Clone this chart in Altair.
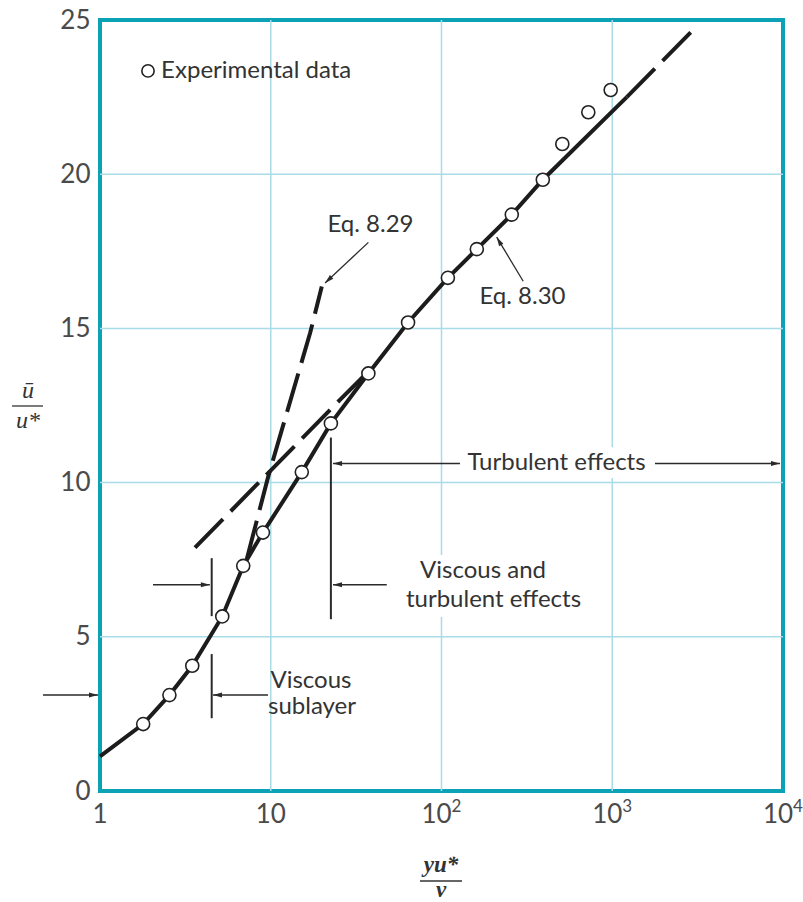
import altair as alt
import pandas as pd

# ---------------- data ----------------
exp_x = [1.79, 2.55, 3.47, 5.2, 6.9, 9.0, 15.2, 22.5, 37.3, 63.7, 109, 161, 258, 392, 510, 724, 979]
exp_y = [2.17, 3.11, 4.06, 5.66, 7.3, 8.38, 10.34, 11.92, 13.54, 15.19, 16.64, 17.57, 18.69, 19.82, 20.98, 22.01, 22.73]

solid_x = [1.0, 1.79, 2.55, 3.47, 5.2, 6.9, 9.0, 15.2, 22.5, 37.3, 63.7, 109, 161, 258, 392, 1216]
solid_y = [1.12, 2.17, 3.11, 4.06, 5.66, 7.3, 8.38, 10.34, 11.92, 13.54, 15.19, 16.64, 17.57, 18.69, 19.82, 22.5]

# Eq. 8.29 (viscous law, dashed extension)
eq829_x = [7.23, 9.68, 17.0, 19.9]
eq829_y = [7.51, 10.21, 14.85, 16.36]
# Log law dashed extension below the data
loglow_x = [3.6, 25.5, 37.3]
loglow_y = [7.89, 12.69, 13.6]
# Log law dashed extension beyond the data
loghigh_x = [1216, 2880]
loghigh_y = [22.5, 24.6]

# annotation leader lines / bars (x, y, x2, y2)
rule_x = [37.3, 301, 128.3, 1779, 22.5, 47.8, 4.51, 2.044, 4.51, 9.64, 0.4636]
rule_y = [17.79, 16.53, 10.62, 10.62, 11.46, 6.69, 7.55, 6.69, 4.44, 3.11, 3.11]
rule_x2 = [20.8, 210.5, 23.15, 9600, 22.5, 23.15, 4.51, 4.4, 4.51, 4.59, 0.973]
rule_y2 = [16.47, 17.96, 10.62, 10.62, 5.57, 6.69, 5.67, 6.69, 2.36, 3.11, 3.11]
rule_w = [1.3, 1.3, 1.5, 1.5, 2, 1.5, 2, 1.5, 2, 1.5, 1.5]

# arrow heads (tip position, direction in degrees clockwise from up)
head_x = [20.8, 210.5, 23.15, 9600, 23.15, 4.4, 4.59, 0.973]
head_y = [16.47, 17.96, 10.62, 10.62, 6.69, 6.69, 3.11, 3.11]
head_a = [227, 330, 270, 90, 270, 90, 270, 90]

# centred annotation texts
ann_text = ["Eq. 8.29", "Eq. 8.30", "Turbulent effects", "Viscous and", "turbulent effects", "Viscous", "sublayer"]
ann_x = [38.4, 298, 471.6, 175, 201.6, 17.2, 17.44]
ann_y = [18.36, 16.03, 10.62, 7.12, 6.19, 3.57, 2.72]

# white masks that interrupt the grid behind two labels (x, x2, y, y2)
mask_x = [128, 65.5]
mask_x2 = [1710, 605]
mask_y = [11.15, 7.65]
mask_y2 = [10.15, 5.64]

legend_label = "Experimental data"
legend_pt_x, legend_pt_y = [1.91], [23.35]
legend_txt_x = [2.28]

grid_x = [10, 100, 1000]
grid_y = [5, 10, 15, 20]
y_ticks = [0, 5, 10, 15, 20, 25]
x_plain = [1, 10]
x_plain_lbl = ["1", "10"]
x_pow = [100, 1000, 10000]
x_pow_exp = ["2", "3", "4"]

# ---------------- chart ----------------
W, H = 683, 771
TEAL = "#0ba2b5"
GRID = "#a9dce6"
INK = "#1c1c1c"
TXT = "#333333"
LBL = "#4a4a4a"
FONT = "Lato"

xs = alt.Scale(type="log", domain=[1, 10000])
ys = alt.Scale(domain=[0, 25])

gx = alt.Chart(pd.DataFrame({"x": grid_x})).mark_rule(color=GRID, strokeWidth=1.5).encode(
    x=alt.X("x:Q", scale=xs, axis=None))
gy = alt.Chart(pd.DataFrame({"y": grid_y})).mark_rule(color=GRID, strokeWidth=1.5).encode(
    y=alt.Y("y:Q", scale=ys,
            axis=alt.Axis(values=y_ticks, grid=False, domain=False, ticks=False,
                          labelFont=FONT, labelFontSize=26, labelColor=LBL,
                          labelPadding=10, title=None)))

masks = alt.Chart(pd.DataFrame({"x": mask_x, "x2": mask_x2, "y": mask_y, "y2": mask_y2})).mark_rect(
    color="white").encode(x=alt.X("x:Q", scale=xs), x2="x2:Q", y=alt.Y("y:Q", scale=ys), y2="y2:Q")

solid = alt.Chart(pd.DataFrame({"x": solid_x, "y": solid_y})).mark_line(
    color=INK, strokeWidth=4).encode(x=alt.X("x:Q", scale=xs), y=alt.Y("y:Q", scale=ys))

dash_df = pd.DataFrame({
    "x": eq829_x + loglow_x + loghigh_x,
    "y": eq829_y + loglow_y + loghigh_y,
    "s": ["a"] * len(eq829_x) + ["b"] * len(loglow_x) + ["c"] * len(loghigh_x),
})
dashed = alt.Chart(dash_df).mark_line(color=INK, strokeWidth=4, strokeDash=[40, 11]).encode(
    x=alt.X("x:Q", scale=xs), y=alt.Y("y:Q", scale=ys), detail="s:N")

pts = alt.Chart(pd.DataFrame({"x": exp_x, "y": exp_y})).mark_point(
    shape="circle", filled=True, fill="white", stroke="#222222", strokeWidth=1.6,
    size=170, opacity=1).encode(x=alt.X("x:Q", scale=xs), y=alt.Y("y:Q", scale=ys))

leg_pt = alt.Chart(pd.DataFrame({"x": legend_pt_x, "y": legend_pt_y})).mark_point(
    shape="circle", filled=True, fill="white", stroke="#222222", strokeWidth=1.6,
    size=150, opacity=1).encode(x=alt.X("x:Q", scale=xs), y=alt.Y("y:Q", scale=ys))
leg_txt = alt.Chart(pd.DataFrame({"x": legend_txt_x, "y": legend_pt_y, "t": [legend_label]})).mark_text(
    align="left", baseline="middle", font=FONT, fontSize=24, color=TXT).encode(
    x=alt.X("x:Q", scale=xs), y=alt.Y("y:Q", scale=ys), text="t:N")

rules = alt.Chart(pd.DataFrame({"x": rule_x, "y": rule_y, "x2": rule_x2, "y2": rule_y2, "w": rule_w})).mark_rule(
    color="#2a2a2a").encode(
    x=alt.X("x:Q", scale=xs), y=alt.Y("y:Q", scale=ys), x2="x2:Q", y2="y2:Q",
    strokeWidth=alt.StrokeWidth("w:Q", scale=None))

heads = alt.Chart(pd.DataFrame({"x": head_x, "y": head_y, "a": head_a})).mark_point(
    shape="M0,0L0.55,2L-0.55,2Z", filled=True, color="#2a2a2a", size=81, opacity=1).encode(
    x=alt.X("x:Q", scale=xs), y=alt.Y("y:Q", scale=ys), angle=alt.Angle("a:Q", scale=None))

ann = alt.Chart(pd.DataFrame({"x": ann_x, "y": ann_y, "t": ann_text})).mark_text(
    align="center", baseline="middle", font=FONT, fontSize=24, color=TXT).encode(
    x=alt.X("x:Q", scale=xs), y=alt.Y("y:Q", scale=ys), text="t:N")

# x tick labels
xl1 = alt.Chart(pd.DataFrame({"x": x_plain, "t": x_plain_lbl})).mark_text(
    align="center", baseline="alphabetic", font=FONT, fontSize=26, color=LBL).encode(
    x=alt.X("x:Q", scale=xs), y=alt.value(H + 32), text="t:N")
xl2 = alt.Chart(pd.DataFrame({"x": x_pow, "t": ["10"] * len(x_pow)})).mark_text(
    align="center", baseline="alphabetic", font=FONT, fontSize=26, color=LBL, dx=-5).encode(
    x=alt.X("x:Q", scale=xs), y=alt.value(H + 32), text="t:N")
xl3 = alt.Chart(pd.DataFrame({"x": x_pow, "t": x_pow_exp})).mark_text(
    align="left", baseline="alphabetic", font=FONT, fontSize=17, color=LBL, dx=10).encode(
    x=alt.X("x:Q", scale=xs), y=alt.value(H + 21), text="t:N")

# axis titles as fractions
serif = "Liberation Serif"
yt = alt.Chart(pd.DataFrame({"t": ["ū", "u*"], "py": [371, 401]})).mark_text(
    align="center", baseline="middle", font=serif, fontSize=24, fontStyle="italic", color=TXT).encode(
    x=alt.value(-72), y=alt.Y("py:Q", scale=None), text="t:N")
yline = alt.Chart(pd.DataFrame({"a": [0]})).mark_rule(color=TXT, strokeWidth=1.3).encode(
    x=alt.value(-88), x2=alt.value(-57), y=alt.value(386))
xt = alt.Chart(pd.DataFrame({"t": ["yu*", "ν"], "py": [845, 870]})).mark_text(
    align="center", baseline="middle", font=serif, fontSize=23, fontStyle="italic",
    fontWeight="bold", color=TXT).encode(
    x=alt.value(341), y=alt.Y("py:Q", scale=None), text="t:N")
xline = alt.Chart(pd.DataFrame({"a": [0]})).mark_rule(color=TXT, strokeWidth=1.3).encode(
    x=alt.value(320), x2=alt.value(362), y=alt.value(861))

chart = alt.layer(
    gx, gy, masks, rules, heads, dashed, solid, pts, leg_pt, leg_txt, ann, xl1, xl2, xl3, yt, yline, xt, xline
).properties(
    width=W, height=H,
    autosize=alt.AutoSizeParams(type="none"),
    padding={"left": 100, "top": 20, "right": 20, "bottom": 111},
).configure(
    background="white",
    view=alt.ViewConfig(stroke=TEAL, strokeWidth=4),
)

chart.save("out.html", embed_options={"renderer": "svg", "actions": False})
